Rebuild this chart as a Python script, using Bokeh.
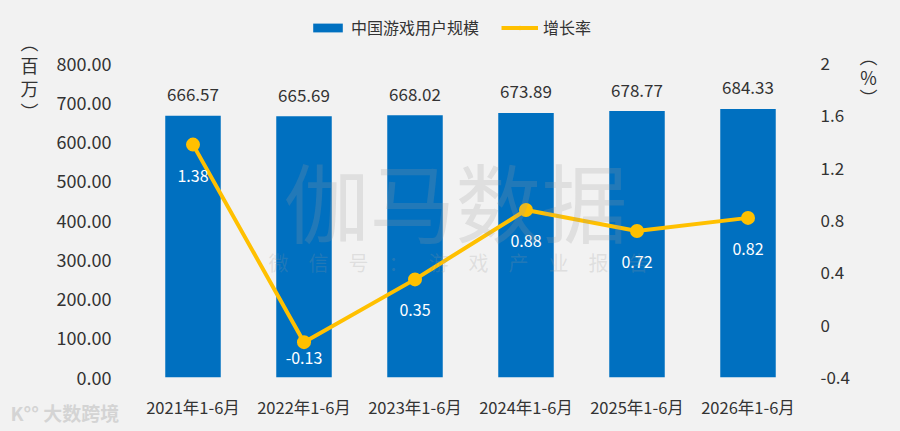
from bokeh.plotting import figure
from bokeh.models import (Range1d, LinearAxis, FixedTicker, NumeralTickFormatter,
                          PrintfTickFormatter, Legend, LegendItem, Label, Title,
                          ColumnDataSource, FactorRange)
from bokeh.core.properties import value
from bokeh.embed import file_html
from bokeh.resources import INLINE

# ---- data ----
periods = ["2021年1-6月", "2022年1-6月", "2023年1-6月", "2024年1-6月", "2025年1-6月", "2026年1-6月"]
users = [666.57, 665.69, 668.02, 673.89, 678.77, 684.33]
growth = [1.38, -0.13, 0.35, 0.88, 0.72, 0.82]
user_ticks = [0, 100, 200, 300, 400, 500, 600, 700, 800]
growth_ticks = [-0.4, 0, 0.4, 0.8, 1.2, 1.6, 2]
growth_tick_labels = ["-0.4", "0", "0.4", "0.8", "1.2", "1.6", "2"]
series_names = ["中国游戏用户规模", "增长率"]
left_unit = "︵\n百\n万\n︶"
right_unit = "︵\n％\n︶"
watermark = "伽马数据"
watermark_sub = "\u2003".join("微信号：游戏产业报告")
logo_text = "K°° 大数跨境"

FONT = "Noto Sans CJK SC"
BG = "#f2f2f2"
BLUE = "#0070c0"
YELLOW = "#ffc000"
TEXT = "#333333"

# the axis scale spans 314 px; the frame is extended upward to hold the legend
AXIS_PX, FRAME_PX = 314, 367
stretch = FRAME_PX / AXIS_PX
users_lo, users_hi = user_ticks[0], user_ticks[-1]
growth_lo, growth_hi = growth_ticks[0], growth_ticks[-1]

src = ColumnDataSource(dict(
    period=periods,
    users=users,
    growth=growth,
    users_label=[f"{v:.2f}" for v in users],
    growth_label=[f"{v:.2f}" for v in growth],
    growth_off=[16 if g < 0 else 31 for g in growth],
))

p = figure(x_range=FactorRange(*periods),
           y_range=Range1d(users_lo, users_lo + (users_hi - users_lo) * stretch),
           frame_width=666, frame_height=FRAME_PX,
           min_border_left=137, min_border_right=97, min_border_top=10, min_border_bottom=54,
           output_backend="svg", toolbar_location=None,
           background_fill_color=BG, border_fill_color=BG, outline_line_color=None)
p.extra_y_ranges = {"g": Range1d(growth_lo, growth_lo + (growth_hi - growth_lo) * stretch)}

bars = p.vbar(x="period", top="users", width=0.5, source=src,
              fill_color=BLUE, line_color=None)
line = p.line(x="period", y="growth", y_range_name="g", source=src,
              line_color=YELLOW, line_width=4)
dots = p.scatter(x="period", y="growth", y_range_name="g", source=src,
                 size=14, fill_color=YELLOW, line_color=None)

p.text(x="period", y="users", text="users_label", source=src,
       y_offset=-21, text_align="center", text_baseline="middle",
       text_font=value(FONT), text_font_size="17px", text_color=TEXT)
p.text(x="period", y="growth", text="growth_label", source=src, y_range_name="g",
       y_offset="growth_off", text_align="center", text_baseline="middle",
       text_font=value(FONT), text_font_size="16px", text_color="white")

# axes
p.xgrid.grid_line_color = None
p.ygrid.grid_line_color = None

ya = p.yaxis[0]
ya.ticker = FixedTicker(ticks=user_ticks)
ya.formatter = NumeralTickFormatter(format="0.00")

ra = LinearAxis(y_range_name="g", ticker=FixedTicker(ticks=growth_ticks),
                formatter=PrintfTickFormatter(format="%g"),
                major_label_overrides=dict(zip(growth_ticks, growth_tick_labels)))
p.add_layout(ra, "right")

# unit captions, carried as single tick labels of outer axes
left_unit_axis = LinearAxis(ticker=FixedTicker(ticks=[767]),
                            major_label_overrides={767: left_unit})
p.add_layout(left_unit_axis, "left")
right_unit_axis = LinearAxis(y_range_name="g", ticker=FixedTicker(ticks=[1.9]),
                             major_label_overrides={1.9: right_unit})
p.add_layout(right_unit_axis, "right")

for ax, standoff, size in ((p.xaxis[0], 17, "16.5px"), (ya, 26, "18px"), (ra, 17, "17px"),
                           (left_unit_axis, 15, "18px"), (right_unit_axis, 7, "18px")):
    ax.axis_line_color = None
    ax.major_tick_line_color = None
    ax.minor_tick_line_color = None
    ax.major_tick_in = 0
    ax.major_tick_out = 0
    ax.major_label_standoff = standoff
    ax.major_label_text_font = FONT
    ax.major_label_text_font_size = size
    ax.major_label_text_color = TEXT
left_unit_axis.major_label_text_line_height = 0.88
right_unit_axis.major_label_text_line_height = 0.8

# legend inside the (extended) frame, above the 800 line
legend = Legend(items=[LegendItem(label=series_names[0], renderers=[bars]),
                       LegendItem(label=series_names[1], renderers=[line, dots])],
                location=(172, 338), orientation="horizontal",
                glyph_width=37, glyph_height=11, label_standoff=5, spacing=22,
                padding=0, margin=0, background_fill_alpha=0, border_line_color=None,
                label_text_font=FONT, label_text_font_size="16px", label_text_color=TEXT)
p.add_layout(legend)

# source logo at the bottom-left corner
p.add_layout(Title(text=logo_text, align="left", offset=-127, vertical_align="top",
                   standoff=-46, text_font=FONT, text_font_size="19px",
                   text_font_style="bold", text_color="#d4d4d4"), "below")

# watermarks
p.add_layout(Label(x=318, y=178, x_units="screen", y_units="screen", text=watermark,
                   text_align="center", text_baseline="middle", text_font=FONT,
                   text_font_size="86px", text_color="#999999", text_alpha=0.22))
p.add_layout(Label(x=321, y=115, x_units="screen", y_units="screen", text=watermark_sub,
                   text_align="center", text_baseline="middle", text_font=FONT,
                   text_font_size="20px", text_color="#999999", text_alpha=0.22))

html = file_html(p, INLINE)
html = html.replace("<body>", '<body style="background-color:#f2f2f2">')
open("out.html", "w").write(html)
